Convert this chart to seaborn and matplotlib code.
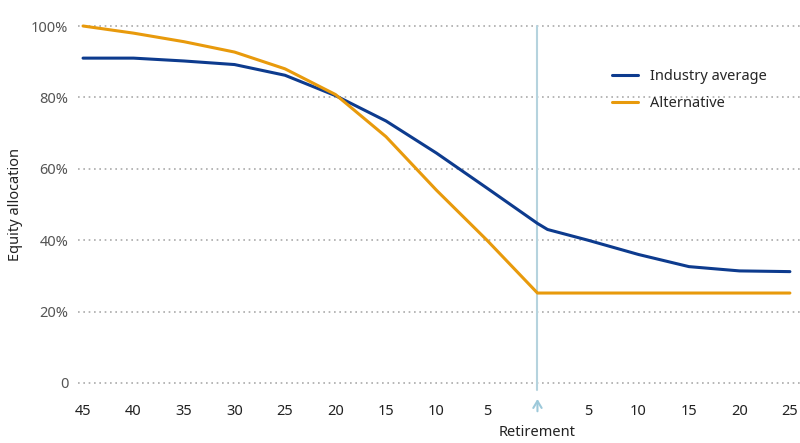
import pandas as pd
import matplotlib
matplotlib.use("Agg")
import matplotlib.pyplot as plt
import seaborn as sns

sns.set_style("white")
plt.rcParams["font.family"] = ["Noto Sans", "DejaVu Sans"]

# =========================
# DATA (years relative to retirement)
# =========================
industry_years = [-45, -40, -35, -30, -25, -20, -15, -10, -5, 0, 1, 5, 10, 15, 20, 25]
industry_alloc = [91, 91, 90.2, 89.2, 86.2, 80.5, 73.4, 64.4, 54.6, 44.7, 43, 40, 36, 32.6, 31.4, 31.2]

alt_years = [-45, -40, -35, -30, -25, -20, -15, -10, -5, 0, 25]
alt_alloc = [100, 98, 95.6, 92.7, 88, 80.8, 69, 54, 40, 25.2, 25.2]

xtick_pos = [-45, -40, -35, -30, -25, -20, -15, -10, -5, 5, 10, 15, 20, 25]
xtick_lab = ["45", "40", "35", "30", "25", "20", "15", "10", "5", "5", "10", "15", "20", "25"]
ytick_pos = [0, 20, 40, 60, 80, 100]
ytick_lab = ["0", "20%", "40%", "60%", "80%", "100%"]

BLUE = "#0d3b8e"
ORANGE = "#e89a0c"
RET = "#b5d3de"

df_ind = pd.DataFrame({"year": industry_years, "alloc": industry_alloc})
df_alt = pd.DataFrame({"year": alt_years, "alloc": alt_alloc})

fig = plt.figure(figsize=(8, 4.43), dpi=100)
ax = fig.add_axes([78 / 800, 1 - 383 / 443, 722 / 800, 357 / 443])

# grid
for y in ytick_pos:
    ax.axhline(y, color="#aaaaaa", lw=1.2, ls=(0, (1, 2.2)), zorder=0, clip_on=False)

# retirement marker
xt = ax.get_xaxis_transform()
ax.plot([0, 0], [-0.02, 1.0], transform=xt, color=RET, lw=1.5, clip_on=False, zorder=1)
ax.annotate("", xy=(0, -0.037), xytext=(0, -0.087), xycoords=xt, textcoords=xt,
            arrowprops=dict(arrowstyle="->,head_length=0.5,head_width=0.3",
                            color="#9dc9da", lw=1.5), annotation_clip=False)
ax.text(0, -0.14, "Retirement", transform=xt, ha="center", va="center",
        fontsize=10.5, color="#222222")

sns.lineplot(data=df_ind, x="year", y="alloc", ax=ax, color=BLUE, lw=2.2,
             label="Industry average", clip_on=False, zorder=3)
sns.lineplot(data=df_alt, x="year", y="alloc", ax=ax, color=ORANGE, lw=2.2,
             label="Alternative", clip_on=False, zorder=3)

ax.set_xlim(-45.5, 26)
ax.set_ylim(0, 100)
ax.set_xticks(xtick_pos)
ax.set_xticklabels(xtick_lab, color="#222222", fontsize=10.5)
ax.set_yticks(ytick_pos)
ax.set_yticklabels(ytick_lab, color="#555555", fontsize=10.5)
ax.tick_params(axis="x", length=0, pad=15)
ax.tick_params(axis="y", length=0, pad=7)
ax.set_xlabel("")
ax.set_ylabel("Equity allocation", fontsize=10.5, color="#222222")
ax.yaxis.set_label_coords(-0.076, 0.5)
sns.despine(ax=ax, left=True, bottom=True)

ax.legend(loc="upper left", bbox_to_anchor=(612 / 800, 1 - 69 / 443),
          bbox_transform=fig.transFigure, frameon=False, fontsize=10.5,
          handlelength=1.8, handletextpad=0.8, labelspacing=0.85, borderpad=0,
          borderaxespad=0)

fig.savefig("out.png", dpi=100)
